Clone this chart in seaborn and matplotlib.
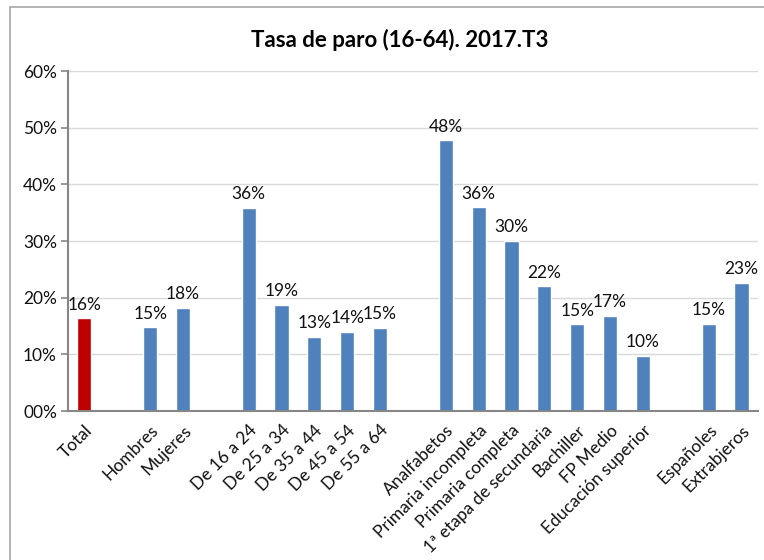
import numpy as np
import pandas as pd
import matplotlib
matplotlib.use('agg')
import matplotlib.pyplot as plt
from matplotlib.patches import Rectangle
import seaborn as sns

# slots (gaps between groups are blank slots)
slots = ['Total', 'g1', 'Hombres', 'Mujeres', 'g2',
         'De 16 a 24', 'De 25 a 34', 'De 35 a 44', 'De 45 a 54', 'De 55 a 64', 'g3',
         'Analfabetos', 'Primaria incompleta', 'Primaria completa', '1ª etapa de secundaria',
         'Bachiller', 'FP Medio', 'Educación superior', 'g4',
         'Españoles', 'Extrabjeros']

categories = ['Total', 'Hombres', 'Mujeres',
              'De 16 a 24', 'De 25 a 34', 'De 35 a 44', 'De 45 a 54', 'De 55 a 64',
              'Analfabetos', 'Primaria incompleta', 'Primaria completa', '1ª etapa de secundaria',
              'Bachiller', 'FP Medio', 'Educación superior',
              'Españoles', 'Extrabjeros']
values = [16.4, 14.8, 18.2,
          35.9, 18.8, 13.1, 14.0, 14.7,
          47.8, 36.0, 30.1, 22.0,
          15.3, 16.8, 9.8,
          15.4, 22.6]
groups = ['total'] + ['rest'] * 16
y_ticks = [0, 10, 20, 30, 40, 50, 60]
y_ticklabels = ['00%', '10%', '20%', '30%', '40%', '50%', '60%']

df = pd.DataFrame({'cat': categories, 'val': values, 'grp': groups})

sns.set_style('white')
plt.rcParams['font.family'] = ['Lato', 'DejaVu Sans']

fig = plt.figure(figsize=(7.64, 5.6), dpi=100)
ax = fig.add_axes([0.089, 0.266, 0.903, 0.607])

sns.barplot(data=df, x='cat', y='val', hue='grp', order=slots,
            palette={'total': '#C00000', 'rest': '#4F81BD'},
            width=0.43, dodge=False, legend=False, ax=ax, saturation=1)

ax.set_ylim(0, 60)
ax.set_xlim(-0.5, len(slots) - 0.5)
ax.set_yticks(y_ticks)
ax.set_yticklabels(y_ticklabels, fontsize=12.5, color='#111111')
ax.yaxis.grid(True, color='#D9D9D9', linewidth=1)
ax.set_axisbelow(True)

# x labels at bar centres, tick marks on slot boundaries
xlabels = ['' if s.startswith('g') else s for s in slots]
ax.set_xticks(np.arange(len(slots)))
ax.set_xticklabels(xlabels, rotation=45, ha='right', rotation_mode='anchor',
                   fontsize=12.5, color='#111111')
ax.tick_params(axis='x', which='major', length=0, pad=8)
ax.set_xticks(np.arange(len(slots) + 1) - 0.5, minor=True)
ax.tick_params(axis='x', which='minor', length=5, color='#868686', width=1.2, direction='out')
ax.tick_params(axis='y', length=5, color='#868686', width=1.2, direction='out', left=True, pad=3)
ax.set_xlabel('')
ax.set_ylabel('')

for sp in ['top', 'right']:
    ax.spines[sp].set_visible(False)
for sp in ['left', 'bottom']:
    ax.spines[sp].set_color('#868686')
    ax.spines[sp].set_linewidth(1.5)

for c in ax.containers:
    ax.bar_label(c, labels=[f'{v:.0f}%' if not np.isnan(v) else '' for v in c.datavalues],
                 padding=4, fontsize=12.5, color='#111111')

fig.text(0.523, 1 - 40 / 560, 'Tasa de paro (16-64). 2017.T3', ha='center', va='center',
         fontsize=16, fontweight='bold', color='#000000')

fig.patches.append(Rectangle((10 / 764, -0.1), 1.1, 1.1 - 7 / 560 + 0.0,
                             transform=fig.transFigure, fill=False,
                             edgecolor='#A6A6A6', linewidth=1.2))

fig.savefig('out.png', dpi=100)
